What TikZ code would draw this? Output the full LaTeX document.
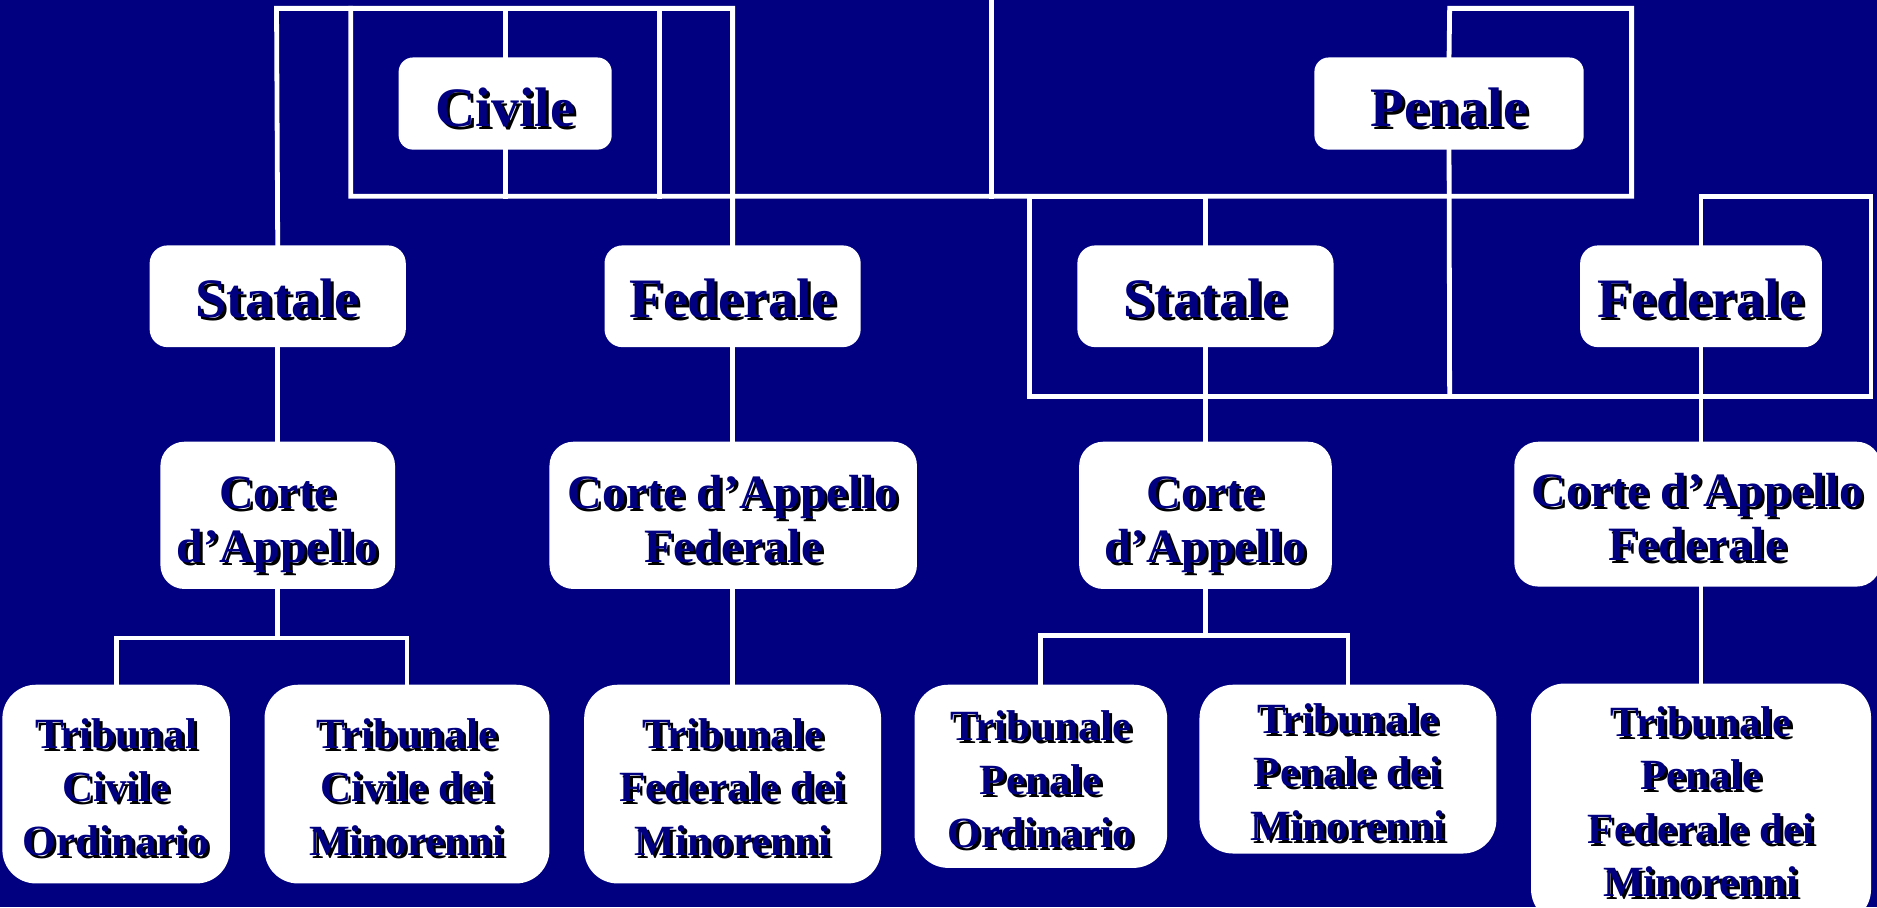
\documentclass[tikz,border=0pt]{standalone}
\usepackage{fontspec}
\setmainfont{Liberation Serif}
\definecolor{bg}{RGB}{0,0,128}
\definecolor{txt}{RGB}{0,0,128}
\def\tsh{5pt}
\newcommand\shtab[1]{\begin{tabular}{@{}c@{}}#1\end{tabular}}
\newcommand\shtxt[1]{\raisebox{-\tsh}[\height][\depth]{\leavevmode\rlap{\hspace{2.5pt}\raisebox{-2.5pt}[0pt][0pt]{\color{black}\shtab{#1}}}{\color{txt}\shtab{#1}}}}
\begin{document}
\begin{tikzpicture}[x=1pt,y=-1pt,
  tshift/.code={\def\tsh{#1}},
  cbox/.style={fill=white, draw=none, inner sep=0pt},
  lvA/.style={cbox, rounded corners=12pt, minimum height=77pt, tshift=9pt, font=\bfseries\fontsize{46.5}{50}\selectfont},
  lvB/.style={cbox, rounded corners=15pt, minimum height=85pt, minimum width=214pt, tshift=8pt, font=\bfseries\fontsize{46.5}{50}\selectfont},
  lvC/.style={cbox, rounded corners=20pt, minimum height=123pt, tshift=7.5pt, font=\bfseries\fontsize{40}{45}\selectfont},
  lvD/.style={cbox, rounded corners=28pt, tshift=6pt, font=\bfseries\fontsize{36}{44.6}\selectfont},
  wline/.style={draw=white, line width=4pt, line cap=rect}]
\clip (0,0) rectangle (1568,758);
\fill[bg] (0,0) rectangle (1568,758);

% nodes
\node[lvA, minimum width=178pt] (civ) at (422,86.5) {\shtxt{Civile}};
\node[lvA, minimum width=225pt] (pen) at (1210.5,86.5) {\shtxt{Penale}};
\node[lvB] (statL) at (232,247.5) {\shtxt{Statale}};
\node[lvB] (fedL) at (612,247.5) {\shtxt{Federale}};
\node[lvB] (statR) at (1007,247.5) {\shtxt{Statale}};
\node[lvB, minimum width=202pt] (fedR) at (1421,247.5) {\shtxt{Federale}};
\node[lvC, minimum width=196pt] (corteL) at (232,430.5) {\shtxt{Corte\\d’Appello}};
\node[lvC, minimum width=307pt] (corteFL) at (612.5,430.5) {\shtxt{Corte d’Appello\\Federale}};
\node[lvC, minimum width=211pt] (corteR) at (1007,430.5) {\shtxt{Corte\\d’Appello}};
\node[lvC, minimum width=306pt, minimum height=121pt] (corteFR) at (1418,429.5) {\shtxt{Corte d’Appello\\Federale}};
\node[lvD, minimum width=190pt, minimum height=166pt] (t1) at (97,655) {\shtxt{Tribunal\\Civile\\Ordinario}};
\node[lvD, minimum width=238pt, minimum height=166pt] (t2) at (340,655) {\shtxt{Tribunale\\Civile dei\\Minorenni}};
\node[lvD, minimum width=248pt, minimum height=166pt] (t3) at (612,655) {\shtxt{Tribunale\\Federale dei\\Minorenni}};
\node[lvD, minimum width=211pt, minimum height=153pt] (t4) at (869.5,648.5) {\shtxt{Tribunale\\Penale\\Ordinario}};
\node[lvD, minimum width=248pt, minimum height=141pt] (t5) at (1126,642.5) {\shtxt{Tribunale\\Penale dei\\Minorenni}};
\node[lvD, minimum width=284pt, minimum height=200pt, tshift=2pt] (t6) at (1421,671) {\shtxt{Tribunale\\Penale\\Federale dei\\Minorenni}};

% frame coordinates
\coordinate (a1) at (231,7);
\coordinate (a2) at (612,7);
\coordinate (b1) at (293,7);
\coordinate (b2) at (293,164);
\coordinate (b3) at (551,7);
\coordinate (b4) at (551,164);
\coordinate (c1) at (422,7);
\coordinate (c2) at (422,164);
\coordinate (m1) at (828,-5);
\coordinate (m2) at (828,164);
\coordinate (p1) at (1211,7);
\coordinate (p2) at (1363,7);
\coordinate (p3) at (1363,164);
\coordinate (p4) at (1211,331);
\coordinate (s1) at (860,164);
\coordinate (s2) at (860,331);
\coordinate (s3) at (1007,164);
\coordinate (f1) at (1563,164);
\coordinate (f2) at (1563,331);
\coordinate (f3) at (1421,164);
\coordinate (k1) at (232,533);
\coordinate (k2) at (1007,531);

% connectors
\draw[wline] (statL.north) -- (a1) -- (a2) -- (fedL.north);
\draw[wline] (b1) -- (b2) -- (p3) -- (p2) -- (p1) -- (pen.north);
\draw[wline] (b3) -- (b4);
\draw[wline] (c1) -- (civ.north);
\draw[wline] (civ.south) -- (c2);
\draw[wline] (m1) -- (m2);
\draw[wline] (pen.south) -- (p4);
\draw[wline] (statR.north) -- (s3) -- (s1) -- (s2) -- (f2) -- (f1) -- (f3) -- (fedR.north);

\draw[wline] (statL.south) -- (corteL.north);
\draw[wline] (fedL.south) -- (fedL.south |- corteFL.north);
\draw[wline] (statR.south) -- (corteR.north);
\draw[wline] (fedR.south) -- (fedR.south |- corteFR.north);

\draw[wline] (corteL.south) -- (k1);
\draw[wline] (t1.north) |- (k1) -| (t2.north);
\draw[wline] (t3.north |- corteFL.south) -- (t3.north);
\draw[wline] (corteR.south) -- (k2);
\draw[wline] (t4.north) |- (k2) -| (t5.north);
\draw[wline] (t6.north |- corteFR.south) -- (t6.north);
\end{tikzpicture}
\end{document}
